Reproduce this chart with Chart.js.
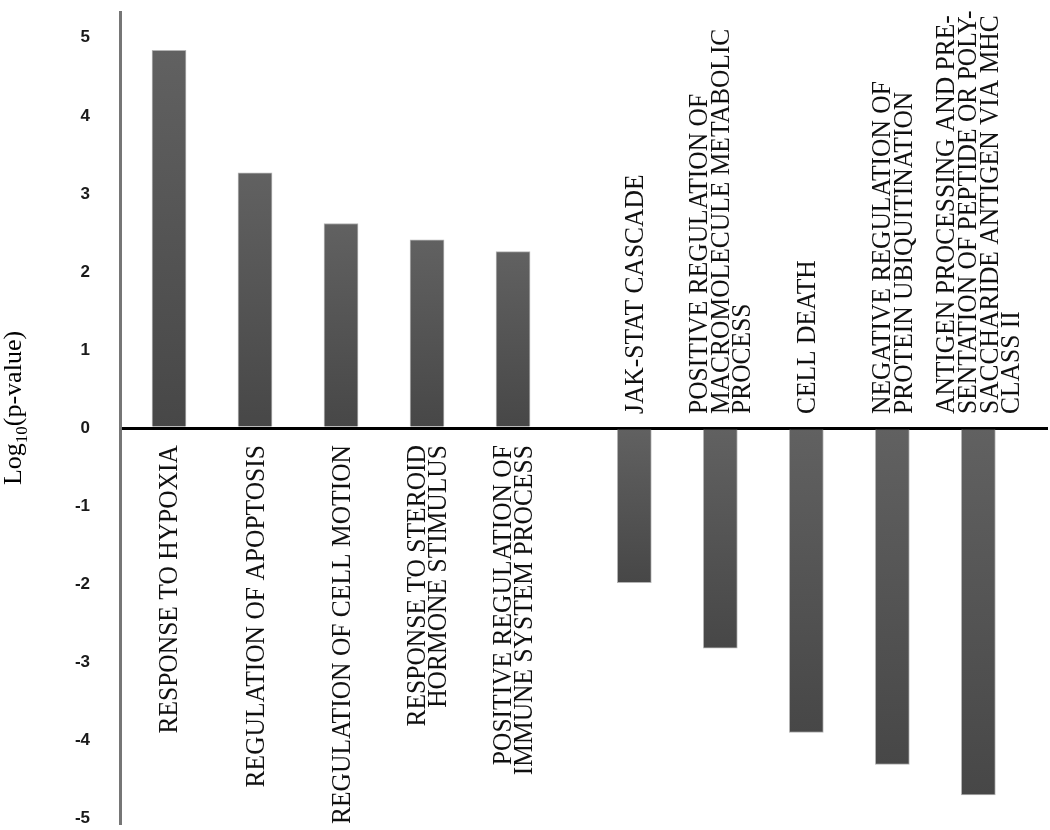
<!DOCTYPE html>
<html>
<head>
<meta charset="utf-8">
<script src="https://cdn.jsdelivr.net/npm/chart.js@4.4.0/dist/chart.umd.min.js"></script>
<style>
  html, body { margin: 0; padding: 0; background: #fff; }
  #wrap { width: 1050px; height: 830px; }
</style>
</head>
<body>
<div id="wrap"><canvas id="myChart" width="1050" height="830"></canvas></div>
<script>
// GO terms enriched among up-regulated genes (positive bars)
const upTerms = [
  'RESPONSE TO HYPOXIA',
  'REGULATION OF APOPTOSIS',
  'REGULATION OF CELL MOTION',
  ['RESPONSE TO STEROID', 'HORMONE STIMULUS'],
  ['POSITIVE REGULATION OF', 'IMMUNE SYSTEM PROCESS']
];
const upValues = [4.84, 3.27, 2.62, 2.41, 2.26];

// GO terms enriched among down-regulated genes (negative bars)
const downTerms = [
  'JAK-STAT CASCADE',
  ['POSITIVE REGULATION OF', 'MACROMOLECULE METABOLIC', 'PROCESS'],
  'CELL DEATH',
  ['NEGATIVE REGULATION OF', 'PROTEIN UBIQUITINATION'],
  ['ANTIGEN PROCESSING AND PRE-', 'SENTATION OF PEPTIDE OR POLY-', 'SACCHARIDE ANTIGEN VIA MHC', 'CLASS II']
];
const downValues = [-1.98, -2.82, -3.90, -4.31, -4.70];

const yTicks = [-5, -4, -3, -2, -1, 0, 1, 2, 3, 4, 5];

// the two groups sit on one axis, with a small gap between them
const groupGap = 0.41;
const terms = upTerms.concat(downTerms);
const points = upValues.map((v, i) => ({ x: i, y: v }))
  .concat(downValues.map((v, i) => ({ x: upValues.length + groupGap + i, y: v })));

const serif = '"Liberation Serif", "Times New Roman", serif';

const termLabels = {
  id: 'termLabels',
  afterDatasetsDraw(chart) {
    const ctx = chart.ctx;
    const zero = chart.scales.y.getPixelForValue(0);
    const meta = chart.getDatasetMeta(0);
    ctx.save();
    ctx.fillStyle = '#111';
    ctx.font = '25.5px ' + serif;
    ctx.textBaseline = 'middle';
    meta.data.forEach((bar, i) => {
      const lines = [].concat(terms[i]);
      const positive = points[i].y > 0;
      const lineH = 19.7;
      ctx.save();
      ctx.translate(bar.x, positive ? zero + 17 : zero - 14);
      ctx.rotate(-Math.PI / 2);
      ctx.scale(1, 1.1);
      ctx.textAlign = positive ? 'right' : 'left';
      lines.forEach((ln, k) => {
        ctx.fillText(ln, 0, (k - (lines.length - 1) / 2) * lineH + 1);
      });
      ctx.restore();
    });
    ctx.restore();
  }
};

const yTitle = {
  id: 'yTitle',
  afterDraw(chart) {
    const ctx = chart.ctx;
    ctx.save();
    ctx.fillStyle = '#000';
    ctx.translate(21, 408);
    ctx.rotate(-Math.PI / 2);
    ctx.textBaseline = 'alphabetic';
    const big = '26px ' + serif, small = '17px ' + serif;
    ctx.font = big; const w1 = ctx.measureText('Log').width;
    ctx.font = small; const w2 = ctx.measureText('10').width;
    ctx.font = big; const w3 = ctx.measureText('(p-value)').width;
    let x = -(w1 + w2 + w3) / 2;
    ctx.font = big; ctx.fillText('Log', x, 0); x += w1;
    ctx.font = small; ctx.fillText('10', x, 6); x += w2;
    ctx.font = big; ctx.fillText('(p-value)', x, 0);
    ctx.restore();
  }
};

new Chart(document.getElementById('myChart').getContext('2d'), {
  type: 'bar',
  data: {
    datasets: [{
      data: points,
      barThickness: 34,
      borderWidth: 1,
      borderColor: 'rgba(160,160,160,0.8)',
      backgroundColor: (c) => {
        const chart = c.chart;
        if (!chart.chartArea || !c.raw) return '#555';
        const ys = chart.scales.y;
        const a = ys.getPixelForValue(0), b = ys.getPixelForValue(c.raw.y);
        const g = chart.ctx.createLinearGradient(0, Math.min(a, b), 0, Math.max(a, b));
        g.addColorStop(0, '#616161');
        g.addColorStop(1, '#474747');
        return g;
      }
    }]
  },
  options: {
    responsive: false,
    animation: false,
    layout: { padding: { top: 12, bottom: 7, right: 2, left: 0 } },
    plugins: { legend: { display: false }, tooltip: { enabled: false } },
    scales: {
      x: {
        type: 'linear',
        display: false,
        offset: false,
        min: -0.57,
        max: 10.22
      },
      y: {
        min: -5.06,
        max: 5.33,
        z: 1,
        afterFit: (s) => { s.width = 120; s.paddingTop = 0; s.paddingBottom = 0; },
        afterBuildTicks: (s) => {
          s.ticks = yTicks.map(v => ({ value: v }));
        },
        border: { color: '#767676', width: 3 },
        grid: {
          drawTicks: false,
          lineWidth: 3,
          color: (c) => (c.tick && c.tick.value === 0 ? '#000' : 'rgba(0,0,0,0)')
        },
        ticks: {
          padding: 30,
          color: '#1a1a1a',
          font: { family: '"Liberation Sans", Arial, sans-serif', size: 17, weight: 'bold' }
        }
      }
    }
  },
  plugins: [termLabels, yTitle]
});
</script>
</body>
</html>
